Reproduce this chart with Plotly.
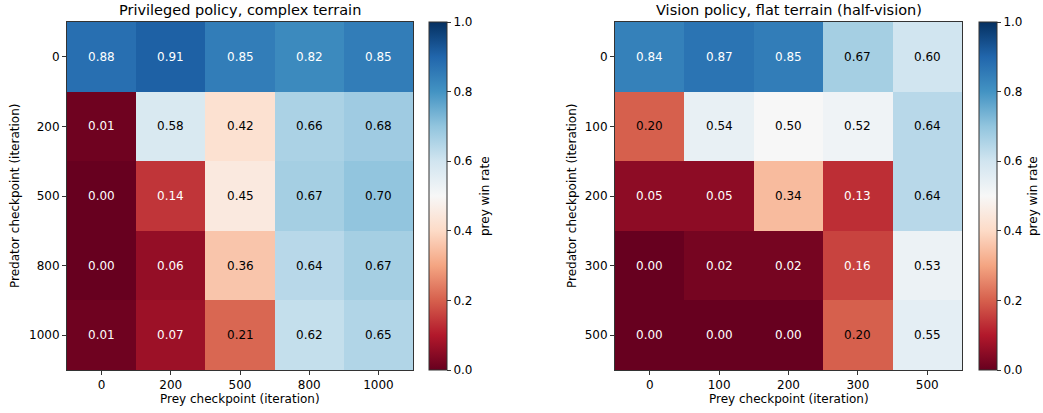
import plotly.graph_objects as go

W, H = 1043, 413

# Data
left_prey = ["0", "200", "500", "800", "1000"]
left_pred = ["0", "200", "500", "800", "1000"]
left_vals = [
    [0.88, 0.91, 0.85, 0.82, 0.85],
    [0.01, 0.58, 0.42, 0.66, 0.68],
    [0.00, 0.14, 0.45, 0.67, 0.70],
    [0.00, 0.06, 0.36, 0.64, 0.67],
    [0.01, 0.07, 0.21, 0.62, 0.65],
]
right_prey = ["0", "100", "200", "300", "500"]
right_pred = ["0", "100", "200", "300", "500"]
right_vals = [
    [0.84, 0.87, 0.85, 0.67, 0.60],
    [0.20, 0.54, 0.50, 0.52, 0.64],
    [0.05, 0.05, 0.34, 0.13, 0.64],
    [0.00, 0.02, 0.02, 0.16, 0.53],
    [0.00, 0.00, 0.00, 0.20, 0.55],
]
titles = ["Privileged policy, complex terrain", "Vision policy, flat terrain (half-vision)"]
xlabel = "Prey checkpoint (iteration)"
ylabel = "Predator checkpoint (iteration)"
cbar_label = "prey win rate"

rdbu = ['rgb(103,0,31)', 'rgb(178,24,43)', 'rgb(214,96,77)', 'rgb(244,165,130)',
        'rgb(253,219,199)', 'rgb(247,247,247)', 'rgb(209,229,240)', 'rgb(146,197,222)',
        'rgb(67,147,195)', 'rgb(33,102,172)', 'rgb(5,48,97)']
colorscale = [[i / 10, c] for i, c in enumerate(rdbu)]

FONT = "DejaVu Sans"
FS = 12

def px_x(p):
    return p / W

def px_y(p):
    return 1 - p / H

panels = [
    dict(x0=67, x1=413, cb=429, xv=left_prey, yv=left_pred, z=left_vals, title=titles[0],
         ylab_x=15, cblab_x=485),
    dict(x0=615, x1=962, cb=979, xv=right_prey, yv=right_pred, z=right_vals, title=titles[1],
         ylab_x=572, cblab_x=1033),
]
y0, y1 = 22, 370

fig = go.Figure()
annotations = []
for i, p in enumerate(panels):
    n = i + 1
    xa = "x" if n == 1 else f"x{n}"
    ya = "y" if n == 1 else f"y{n}"
    idx_x = list(range(len(p["xv"])))
    idx_y = list(range(len(p["yv"])))
    fig.add_trace(go.Heatmap(
        z=p["z"], x=idx_x, y=idx_y, xaxis=xa, yaxis=ya,
        zmin=0, zmax=1, colorscale=colorscale, hoverinfo="skip",
        colorbar=dict(
            x=px_x(p["cb"]), xanchor="left", xref="paper",
            y=px_y((y0 + y1) / 2), yanchor="middle", yref="paper",
            len=(y1 - y0) / H, lenmode="fraction",
            thickness=18, thicknessmode="pixels",
            xpad=0, ypad=0,
            outlinewidth=1, outlinecolor="#333",
            tickmode="array", tickvals=[0, 0.2, 0.4, 0.6, 0.8, 1.0],
            ticktext=["0.0", "0.2", "0.4", "0.6", "0.8", "1.0"],
            ticks="outside", ticklen=4, tickcolor="#333",
            tickfont=dict(family=FONT, size=FS, color="black"),
        ),
    ))
    axkey = "xaxis" if n == 1 else f"xaxis{n}"
    aykey = "yaxis" if n == 1 else f"yaxis{n}"
    fig.update_layout(**{
        axkey: dict(domain=[px_x(p["x0"]), px_x(p["x1"])], anchor=ya,
                    range=[-0.5, len(idx_x) - 0.5],
                    tickmode="array", tickvals=idx_x, ticktext=p["xv"],
                    showline=True, mirror=True, linecolor="#333", linewidth=1,
                    ticks="outside", ticklen=4, tickcolor="#333", showgrid=False,
                    zeroline=False, automargin=False,
                    tickfont=dict(family=FONT, size=FS, color="black")),
        aykey: dict(domain=[px_y(y1), px_y(y0)], anchor=xa,
                    range=[len(idx_y) - 0.5, -0.5],
                    tickmode="array", tickvals=idx_y, ticktext=p["yv"],
                    showline=True, mirror=True, linecolor="#333", linewidth=1,
                    ticks="outside", ticklen=4, tickcolor="#333", showgrid=False,
                    zeroline=False, automargin=False,
                    tickfont=dict(family=FONT, size=FS, color="black")),
    })
    # cell texts
    for r, row in enumerate(p["z"]):
        for c, v in enumerate(row):
            col = "white" if (v < 0.18 or v > 0.78) else "black"
            annotations.append(dict(
                x=idx_x[c], y=idx_y[r], xref=xa, yref=ya, text=f"{v:.2f}",
                showarrow=False, font=dict(family=FONT, size=FS, color=col)))
    cx = (p["x0"] + p["x1"]) / 2
    annotations.append(dict(x=px_x(cx), y=px_y(10), xref="paper", yref="paper",
                            text=p["title"], showarrow=False, xanchor="center", yanchor="middle",
                            font=dict(family=FONT, size=14.5, color="black")))
    annotations.append(dict(x=px_x(cx), y=px_y(399), xref="paper", yref="paper",
                            text=xlabel, showarrow=False, xanchor="center", yanchor="middle",
                            font=dict(family=FONT, size=FS, color="black")))
    annotations.append(dict(x=px_x(p["ylab_x"]), y=px_y((y0 + y1) / 2), xref="paper", yref="paper",
                            text=ylabel, showarrow=False, textangle=-90,
                            xanchor="center", yanchor="middle",
                            font=dict(family=FONT, size=FS, color="black")))
    annotations.append(dict(x=px_x(p["cblab_x"]), y=px_y((y0 + y1) / 2), xref="paper", yref="paper",
                            text=cbar_label, showarrow=False, textangle=-90,
                            xanchor="center", yanchor="middle",
                            font=dict(family=FONT, size=FS, color="black")))

fig.update_layout(
    width=W, height=H, template="none",
    margin=dict(l=0, r=0, t=0, b=0),
    paper_bgcolor="white", plot_bgcolor="white",
    annotations=annotations, showlegend=False,
    font=dict(family=FONT, size=FS, color="black"),
)
fig.write_html("out.html", config={"displayModeBar": False},
               post_script="document.body.style.margin='0';")
